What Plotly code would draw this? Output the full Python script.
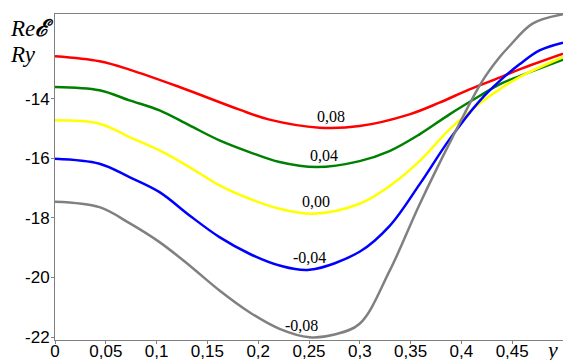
import plotly.graph_objects as go

# (x, value) readings for each curve, labelled by parameter value
red_x = [0, 0.0438, 0.0733, 0.1225, 0.1816, 0.2111, 0.2604, 0.2998, 0.3489, 0.3784, 0.4080, 0.4375, 0.4572, 0.5]
red_y = [-12.571, -12.739, -13.018, -13.603, -14.363, -14.699, -14.968, -14.914, -14.521, -14.128, -13.681,
         -13.287, -13.008, -12.481]

green_x = [0, 0.0438, 0.0733, 0.1029, 0.1324, 0.1619, 0.1914, 0.2210, 0.2574, 0.2998, 0.3292, 0.3588, 0.3883,
           0.4178, 0.4375, 0.4572, 0.5]
green_y = [-13.603, -13.714, -14.050, -14.387, -14.891, -15.395, -15.788, -16.124, -16.292, -16.091, -15.755,
           -15.193, -14.521, -13.906, -13.513, -13.234, -12.682]

yellow_x = [0, 0.0438, 0.0733, 0.1029, 0.1324, 0.1619, 0.1914, 0.2210, 0.2535, 0.2998, 0.3292, 0.3588, 0.3883,
            0.4178, 0.4375, 0.4572, 0.5]
yellow_y = [-14.723, -14.834, -15.284, -15.731, -16.292, -16.908, -17.355, -17.691, -17.859, -17.523, -16.931,
            -16.091, -15.025, -14.161, -13.681, -13.267, -12.595]

blue_x = [0, 0.0438, 0.0733, 0.1029, 0.1324, 0.1619, 0.1914, 0.2210, 0.2505, 0.2998, 0.3292, 0.3588, 0.3883,
          0.4178, 0.4375, 0.4572, 0.4769, 0.5]
blue_y = [-16.010, -16.178, -16.629, -17.133, -17.916, -18.645, -19.203, -19.597, -19.741, -19.136, -18.276,
          -16.874, -15.361, -14.074, -13.402, -12.840, -12.370, -12.111]

gray_x = [0, 0.0438, 0.0733, 0.1029, 0.1324, 0.1619, 0.1914, 0.2210, 0.2505, 0.2751, 0.2998, 0.3292, 0.3588,
          0.3912, 0.4198, 0.4375, 0.4474, 0.4700, 0.5]
gray_y = [-17.455, -17.637, -18.175, -18.813, -19.597, -20.437, -21.166, -21.724, -22.007, -21.916, -21.556,
          -19.788, -17.546, -15.294, -13.445, -12.605, -12.225, -11.472, -11.160]

series_labels = ["0,08", "0,04", "0,00", "-0,04", "-0,08"]
label_x = [0.272, 0.265, 0.257, 0.250, 0.243]
label_y = [-14.59, -15.90, -17.45, -19.32, -21.61]
colors = ["#ff0000", "#008000", "#ffff00", "#0000ff", "#808080"]

x_tickvals = [0, 0.05, 0.1, 0.15, 0.2, 0.25, 0.3, 0.35, 0.4, 0.45]
x_ticktext = ["0", "0,05", "0,1", "0,15", "0,2", "0,25", "0,3", "0,35", "0,4", "0,45"]
y_tickvals = [-22, -20, -18, -16, -14]
y_ticktext = ["-22", "-20", "-18", "-16", "-14"]

fig = go.Figure()
for xs, ys, c in zip([red_x, green_x, yellow_x, blue_x, gray_x],
                     [red_y, green_y, yellow_y, blue_y, gray_y], colors):
    fig.add_trace(go.Scatter(x=xs, y=ys, mode="lines",
                             line=dict(color=c, width=2.5, shape="spline", smoothing=1.0),
                             showlegend=False, hoverinfo="skip"))

for t, lx, ly in zip(series_labels, label_x, label_y):
    fig.add_annotation(x=lx, y=ly, text=t, showarrow=False,
                       font=dict(family="Liberation Serif", size=16, color="black"))

fig.add_annotation(xref="paper", yref="paper", x=0.978, y=-0.03, text="<i>y</i>",
                   showarrow=False, font=dict(family="Liberation Serif", size=22, color="black"),
                   xanchor="center", yanchor="middle")
fig.add_annotation(xref="paper", yref="paper", x=-0.0925, y=0.954,
                   text="<i>Re</i><b><i>ℰ</i></b>", showarrow=False, xanchor="left", yanchor="middle",
                   font=dict(family="Liberation Serif", size=23, color="black"))
fig.add_annotation(xref="paper", yref="paper", x=-0.0925, y=0.877,
                   text="<i>Ry</i>", showarrow=False, xanchor="left", yanchor="middle",
                   font=dict(family="Liberation Serif", size=23, color="black"))

axis_common = dict(showgrid=False, zeroline=False, showline=True, linecolor="#808080", linewidth=1,
                   ticks="outside", ticklen=3, tickcolor="#808080",
                   tickfont=dict(family="Liberation Sans", size=17, color="black"))

fig.update_xaxes(range=[0, 0.5], tickvals=x_tickvals, ticktext=x_ticktext, mirror=True,
                 ticklabelstandoff=-7, **axis_common)
fig.update_yaxes(range=[-22.1, -11.15], tickvals=y_tickvals, ticktext=y_ticktext,
                 ticklabelstandoff=-2, **axis_common)

fig.update_layout(width=563, height=360, margin=dict(l=55, r=0, t=14, b=20),
                  plot_bgcolor="white", paper_bgcolor="white")

fig.write_html("out.html", config={"displayModeBar": False},
               post_script="document.body.style.margin='0';")
